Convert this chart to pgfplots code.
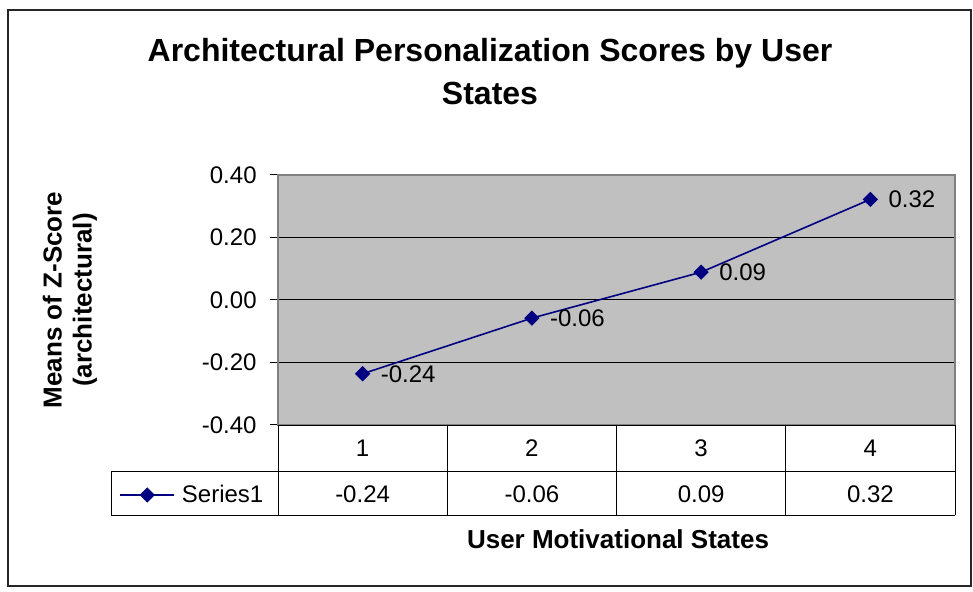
\documentclass[border=0pt]{standalone}
\usepackage{fontspec}
\setmainfont{Liberation Sans}
\usepackage{pgfplots}
\pgfplotsset{compat=1.18}
\definecolor{navyline}{RGB}{0,0,128}
\definecolor{plotbg}{RGB}{192,192,192}
\definecolor{plotedge}{RGB}{128,128,128}
\newcommand{\tickfont}{\fontsize{12}{14}\selectfont}
\newcommand{\labelfont}{\fontsize{13}{15}\selectfont\bfseries}

\begin{document}
\begin{tikzpicture}
% plot area lower-left sits at pixel (278,425) of the 973x592 frame (1px = 0.5pt)
\begin{axis}[
  at={(139pt,-212.5pt)}, anchor=south west,
  scale only axis, width=338.5pt, height=125pt,
  xmin=0.5, xmax=4.5, ymin=-0.4, ymax=0.4,
  xtick=\empty,
  ytick={-0.4,-0.2,0,0.2,0.4},
  yticklabels={-0.40,-0.20,0.00,0.20,0.40},
  ytick pos=left, tick align=outside, major tick length=4pt,
  tick style={black, line width=0.5pt},
  yticklabel style={font=\tickfont, inner sep=0pt, xshift=-6.5pt},
  ymajorgrids, grid style={black, line width=0.5pt},
  axis background/.style={fill=plotbg},
  axis line style={plotedge, line width=0.7pt},
  clip=false,
  legend style={at={(-0.2349,-0.28)}, anchor=west, draw=none, fill=none,
                inner sep=0pt, column sep=3.5pt,
                nodes={inner sep=0pt, font=\tickfont, text=black}},
  legend image code/.code={\draw[mark repeat=2, mark phase=2, #1]
      plot coordinates {(0pt,0pt) (13.5pt,0pt) (27pt,0pt)};},
]
\addplot[navyline, line width=0.8pt, mark=square*, mark size=2.3pt,
         mark options={rotate=45, fill=navyline, draw=navyline},
         nodes near coords, point meta=explicit symbolic,
         every node near coord/.append style={anchor=west, inner sep=0pt,
             xshift=8.7pt, font=\tickfont, text=black}]
  coordinates {(1,-0.236)[-0.24] (2,-0.058)[-0.06] (3,0.089)[0.09] (4,0.322)[0.32]};
\addlegendentry{Series1}
\end{axis}

\begin{scope}[x=0.5pt, y=-0.5pt]
  % chart frame
  \draw[line width=0.6pt, black!85] (8,10) rectangle (971,586);
  % title and axis titles
  \node[align=center, font=\fontsize{16}{21.5}\selectfont\bfseries] at (490,71.5)
    {Architectural Personalization Scores by User\\States};
  \node[rotate=90, align=center, font=\labelfont] at (70,300)
    {Means of Z-Score\\(architectural)};
  \node[font=\labelfont] at (618,539) {User Motivational States};
  % data table grid
  \begin{scope}[black, line width=0.5pt]
    \draw (278,425.5) -- (955,425.5);
    \draw (111,471.5) -- (955,471.5);
    \draw (111,515) -- (955,515);
    \draw (111,471.5) -- (111,515);
    \foreach \xx in {278,447.25,616.5,785.75,955}
      \draw (\xx,425.5) -- (\xx,515);
  \end{scope}
  % table contents
  \foreach \xx/\cat/\val in {362.6/1/-0.24, 531.9/2/-0.06, 701.1/3/0.09, 870.4/4/0.32} {
    \node[font=\tickfont] at (\xx,448) {\cat};
    \node[font=\tickfont] at (\xx,494) {\val};
  }
\end{scope}
\pgfresetboundingbox
\path[use as bounding box] (0pt,0pt) rectangle (486.5pt,-296pt);
\end{tikzpicture}
\end{document}
